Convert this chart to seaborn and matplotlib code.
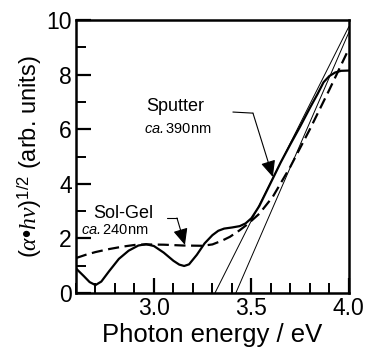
import matplotlib
matplotlib.use("Agg")
import matplotlib.pyplot as plt
from matplotlib.ticker import MultipleLocator
import numpy as np
import pandas as pd
import seaborn as sns

# values
sputter_x = [2.60, 2.64, 2.67, 2.70, 2.73, 2.77, 2.82, 2.87, 2.92, 2.96, 3.00, 3.05, 3.10, 3.13,
             3.155, 3.18, 3.22, 3.26, 3.30, 3.33, 3.36, 3.40, 3.44, 3.47, 3.50, 3.54, 3.60, 3.65,
             3.70, 3.75, 3.80, 3.84, 3.87, 3.90, 3.93, 3.96, 4.00]
sputter_y = [0.90, 0.62, 0.40, 0.29, 0.42, 0.80, 1.25, 1.55, 1.74, 1.79, 1.72, 1.48, 1.18, 1.04,
             0.99, 1.05, 1.40, 1.82, 2.12, 2.28, 2.36, 2.40, 2.45, 2.55, 2.74, 3.18, 4.05, 4.78,
             5.45, 6.10, 6.78, 7.30, 7.72, 7.95, 8.08, 8.14, 8.15]

solgel_x = [2.60, 2.65, 2.70, 2.77, 2.84, 2.90, 2.96, 3.05, 3.15, 3.25, 3.30, 3.35, 3.39, 3.44,
            3.48, 3.54, 3.61, 3.70, 3.80, 3.90, 3.96, 4.00]
solgel_y = [1.28, 1.40, 1.50, 1.61, 1.70, 1.76, 1.78, 1.77, 1.74, 1.73, 1.78, 1.92, 2.06, 2.30,
            2.52, 2.90, 3.53, 4.63, 6.00, 7.45, 8.35, 8.95]

# tangent lines (x-intercept and end value at 4.0 eV)
fit_x = [[3.313, 4.00], [3.42, 4.00]]
fit_y = [[0.0, 9.76], [0.0, 9.55]]

sns.set_style("white")
plt.rcParams['font.family'] = ['Liberation Sans', 'DejaVu Sans']
plt.rcParams['text.color'] = 'black'
plt.rcParams['axes.labelcolor'] = 'black'
plt.rcParams['xtick.color'] = 'black'
plt.rcParams['ytick.color'] = 'black'
plt.rcParams['mathtext.fontset'] = 'custom'
plt.rcParams['mathtext.rm'] = 'Liberation Sans'
plt.rcParams['mathtext.it'] = 'Liberation Serif:italic'
plt.rcParams['mathtext.sf'] = 'Liberation Sans:italic'

df_sp = pd.DataFrame({"E": sputter_x, "v": sputter_y})
df_sg = pd.DataFrame({"E": solgel_x, "v": solgel_y})

fig = plt.figure(figsize=(3.68, 3.52), dpi=100)
ax = fig.add_axes([0.2065, 0.1676, 0.7415, 0.7754])

for fx, fy in zip(fit_x, fit_y):
    sns.lineplot(x=fx, y=fy, ax=ax, color="black", linewidth=0.7)
sns.lineplot(data=df_sg, x="E", y="v", ax=ax, color="black", linewidth=1.6,
             linestyle=(0, (5, 2.5)), sort=False)
sns.lineplot(data=df_sp, x="E", y="v", ax=ax, color="black", linewidth=1.6, sort=False)

ax.set_xlim(2.6, 4.0)
ax.set_ylim(0, 10)
ax.xaxis.set_minor_locator(MultipleLocator(0.1))
ax.yaxis.set_major_locator(MultipleLocator(2))
ax.yaxis.set_minor_locator(MultipleLocator(1))
ax.set_xticks([3.0, 3.5, 4.0])
ax.set_xticklabels(["3.0", "3.5", "4.0"])
ax.tick_params(which="major", direction="in", length=11, width=1.6, labelsize=16.5, pad=3)
ax.tick_params(which="minor", direction="in", length=7, width=1.4)
ax.tick_params(left=True, bottom=True, which="both")
for s in ax.spines.values():
    s.set_linewidth(1.8)
    s.set_color("black")

ax.set_xlabel("Photon energy / eV", fontsize=18.5, labelpad=2)
ax.set_ylabel(r"$(\alpha$•$h\nu)^{1/2}$ (arb. units)", fontsize=17, labelpad=2)

arrow = dict(arrowstyle="-|>,head_length=1.0,head_width=0.45",
             color="black", lw=0.8, shrinkA=0, shrinkB=0)

# labels with leader arrows
ax.text(3.11, 6.85, "Sputter", fontsize=13, ha="center", va="center")
ax.text(3.12, 6.0, r"$\mathsf{ca.}$390nm", fontsize=10.5, ha="center", va="center")
ax.plot([3.405, 3.508], [6.63, 6.59], color="black", lw=0.8)
ax.annotate("", xy=(3.61, 4.25), xytext=(3.508, 6.59), arrowprops=arrow)

ax.text(2.84, 2.93, "Sol-Gel", fontsize=13, ha="center", va="center")
ax.text(2.80, 2.31, r"$\mathsf{ca.}$240nm", fontsize=10.5, ha="center", va="center")
ax.plot([3.067, 3.118], [2.75, 2.75], color="black", lw=0.8)
ax.annotate("", xy=(3.159, 1.76), xytext=(3.118, 2.75), arrowprops=arrow)

fig.savefig("out.png", dpi=100)
